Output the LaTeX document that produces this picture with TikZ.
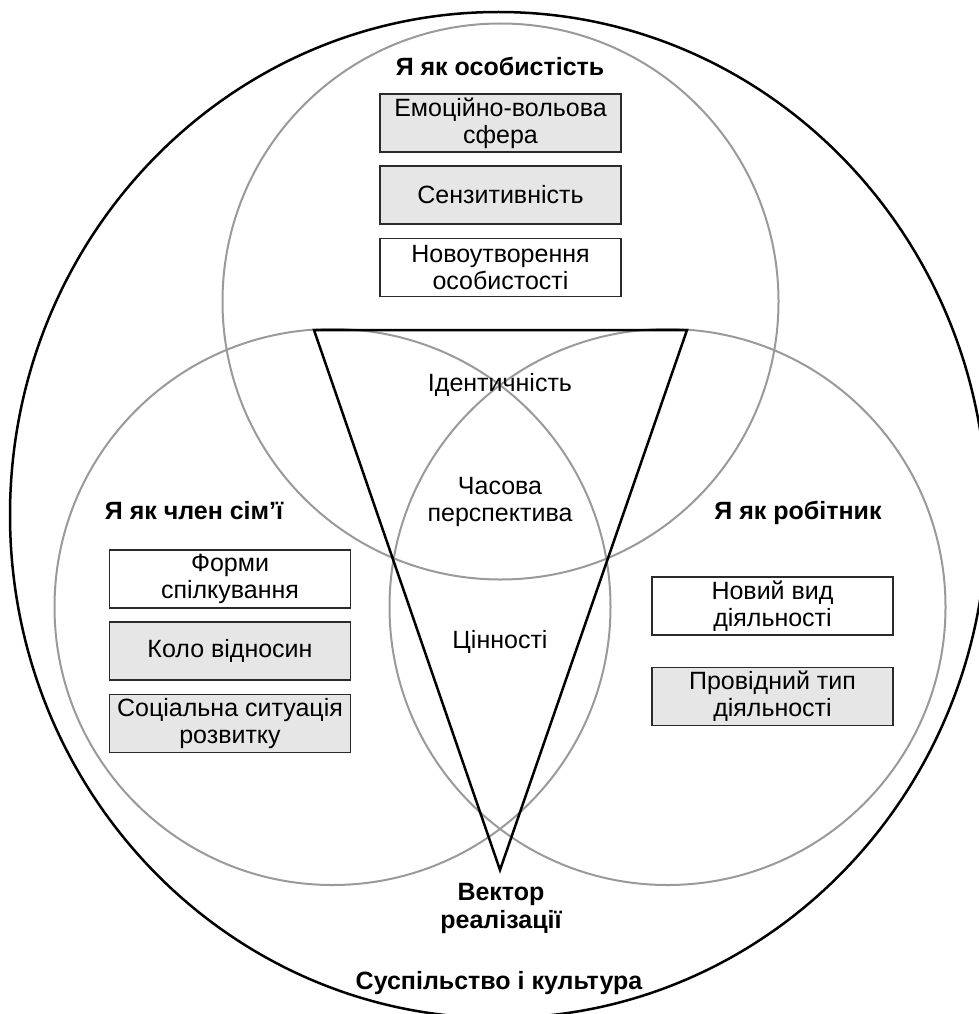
\documentclass[tikz,border=0pt]{standalone}
\usepackage{fontspec}
\setmainfont{Liberation Sans}
\definecolor{vennline}{HTML}{9A9A9A}
\definecolor{boxfill}{HTML}{E6E6E6}
\definecolor{boxline}{HTML}{2A2A2A}
\begin{document}
\begin{tikzpicture}[x=1pt,y=-1pt,
  venn/.style={circle, draw=vennline, line width=2pt, minimum size=556pt, inner sep=0pt},
  txt/.style={font=\fontsize{25}{27}\selectfont, align=center, inner sep=0pt},
  one/.style={text height=17.9pt, text depth=0pt},
  head/.style={txt, font=\fontsize{25}{28}\selectfont\bfseries},
  box/.style={txt, draw=boxline, line width=1.3pt, minimum width=241pt, minimum height=58pt},
  shaded/.style={box, fill=boxfill},
  plain/.style={box, fill=white},
  outline/.style={line width=2.5pt, draw=black}
]
\useasboundingbox (0,0) rectangle (979,1014);
\fill[white] (0,0) rectangle (979,1014);
\clip (0,0) rectangle (979,1014);

% outer region
\draw[outline] (498.5,515) ellipse [x radius=488.5pt, y radius=503pt];

% three spheres
\node[venn] (ctop)   at (500.5,301.5) {};
\node[venn] (cleft)  at (332.5,607) {};
\node[venn] (cright) at (667.5,607) {};

% vector triangle
\coordinate (tl) at (314,330);
\coordinate (tr) at (687,330);
\coordinate (tb) at (500,870);
\draw[outline, line join=miter] (tl) -- (tr) -- (tb) -- cycle;

% top sphere
\node[head, one] (htop) at (500,67) {Я як особистість};
\node[shaded] (b1) at (500.5,123) {Емоційно-вольова\\сфера};
\node[shaded] (b2) at (500.5,195) {Сензитивність};
\node[plain]  (b3) at (500.5,267.5) {Новоутворення\\особистості};

% left sphere
\node[head, one] (hleft) at (194,511) {Я як член сім’ї};
\node[plain]  (l1) at (230,579) {Форми\\спілкування};
\node[shaded] (l2) at (230,651) {Коло відносин};
\node[shaded] (l3) at (230,723.5) {Соціальна ситуація\\розвитку};

% right sphere
\node[head, one] (hright) at (798,511) {Я як робітник};
\node[plain]  (r1) at (772.5,606) {Новий вид\\діяльності};
\node[shaded] (r2) at (772.5,696.5) {Провідний тип\\діяльності};

% centre
\node[txt, one] (ident) at (500,383) {Ідентичність};
\node[txt] (time) at (500,502) {Часова\\перспектива};
\node[txt, one] (values) at (500,640) {Цінності};

% bottom
\node[head] (vector) at (501,908) {Вектор\\реалізації};
\node[head, one] (society) at (499,981) {Суспільство і культура};
\end{tikzpicture}
\end{document}
